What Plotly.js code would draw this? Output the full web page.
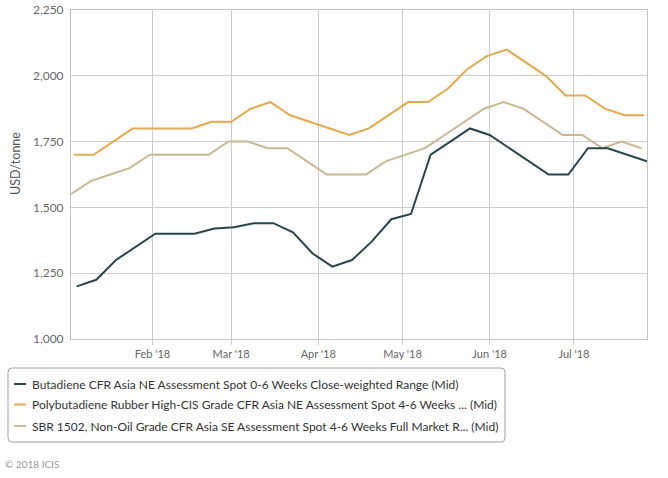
<!DOCTYPE html>
<html>
<head>
<meta charset="utf-8">
<script src="https://cdn.plot.ly/plotly-3.0.1.min.js"></script>
<style>
  html, body { margin: 0; padding: 0; background: #fff; }
  #chart { width: 668px; height: 478px; }
</style>
</head>
<body>
<div id="chart"></div>
<script>
// ---------- data ----------
const seriesNames = [
  "Butadiene CFR Asia NE Assessment Spot 0-6 Weeks Close-weighted Range (Mid)",
  "Polybutadiene Rubber High-CIS Grade CFR Asia NE Assessment Spot 4-6 Weeks ... (Mid)",
  "SBR 1502, Non-Oil Grade CFR Asia SE Assessment Spot 4-6 Weeks Full Market R... (Mid)"
];

const butadieneDates = [
  "2018-01-05","2018-01-12","2018-01-19","2018-01-26","2018-02-02","2018-02-09",
  "2018-02-16","2018-02-23","2018-03-02","2018-03-09","2018-03-16","2018-03-23",
  "2018-03-30","2018-04-06","2018-04-13","2018-04-20","2018-04-27","2018-05-04",
  "2018-05-11","2018-05-18","2018-05-25","2018-06-01","2018-06-08","2018-06-15",
  "2018-06-22","2018-06-29","2018-07-06","2018-07-13","2018-07-20","2018-07-27"
];
const butadieneValues = [
  1200, 1225, 1300, 1350, 1400, 1400,
  1400, 1420, 1425, 1440, 1440, 1405,
  1325, 1275, 1300, 1370, 1455, 1475,
  1700, 1750, 1800, 1775, 1725, 1675,
  1625, 1625, 1725, 1725, 1700, 1675
];

const pbrDates = [
  "2018-01-04","2018-01-11","2018-01-18","2018-01-25","2018-02-01","2018-02-08",
  "2018-02-15","2018-02-22","2018-03-01","2018-03-08","2018-03-15","2018-03-22",
  "2018-03-29","2018-04-05","2018-04-12","2018-04-19","2018-04-26","2018-05-03",
  "2018-05-10","2018-05-17","2018-05-24","2018-05-31","2018-06-07","2018-06-14",
  "2018-06-21","2018-06-28","2018-07-05","2018-07-12","2018-07-19","2018-07-26"
];
const pbrValues = [
  1700, 1700, 1750, 1800, 1800, 1800,
  1800, 1825, 1825, 1875, 1900, 1850,
  1825, 1800, 1775, 1800, 1850, 1900,
  1900, 1950, 2025, 2075, 2100, 2050,
  2000, 1925, 1925, 1875, 1850, 1850
];

const sbrDates = [
  "2018-01-03","2018-01-10","2018-01-17","2018-01-24","2018-01-31","2018-02-07",
  "2018-02-14","2018-02-21","2018-02-28","2018-03-07","2018-03-14","2018-03-21",
  "2018-03-28","2018-04-04","2018-04-11","2018-04-18","2018-04-25","2018-05-02",
  "2018-05-09","2018-05-16","2018-05-23","2018-05-30","2018-06-06","2018-06-13",
  "2018-06-20","2018-06-27","2018-07-04","2018-07-11","2018-07-18","2018-07-25"
];
const sbrValues = [
  1550, 1600, 1625, 1650, 1700, 1700,
  1700, 1700, 1750, 1750, 1725, 1725,
  1675, 1625, 1625, 1625, 1675, 1700,
  1725, 1775, 1825, 1875, 1900, 1875,
  1825, 1775, 1775, 1725, 1750, 1725
];

const xTickVals = ["2018-02-01","2018-03-01","2018-04-01","2018-05-01","2018-06-01","2018-07-01"];
const xTickText = ["Feb '18","Mar '18","Apr '18","May '18","Jun '18","Jul '18"];
const yTickVals = [1000, 1250, 1500, 1750, 2000, 2250];
const yAxisLabel = "USD/tonne";
const copyrightText = "\u00a9 2018 ICIS";

// ---------- styles ----------
const colors = ["#2b444a", "#e2aa4c", "#c8b895"];
const FONT = "Lato, 'Open Sans', sans-serif";

// plot area in pixels
const W = 668, H = 478;
const L = 71, R = 647, T = 10, B = 339;
const px = v => (v - L) / (R - L);
const py = v => (B - v) / (B - T);

const traces = [
  { x: butadieneDates, y: butadieneValues, name: seriesNames[0] },
  { x: pbrDates, y: pbrValues, name: seriesNames[1] },
  { x: sbrDates, y: sbrValues, name: seriesNames[2] }
].map((t, i) => Object.assign(t, {
  type: "scatter", mode: "lines",
  line: { color: colors[i], width: 2 },
  hoverinfo: "x+y"
}));
const drawOrder = [traces[2], traces[1], traces[0]];

// legend (custom box)
const lx0 = 8, lx1 = 505, ly0 = 368, ly1 = 442, rr = 4;
const boxPath =
  `M ${px(lx0 + rr)} ${py(ly0)} L ${px(lx1 - rr)} ${py(ly0)} ` +
  `Q ${px(lx1)} ${py(ly0)} ${px(lx1)} ${py(ly0 + rr)} ` +
  `L ${px(lx1)} ${py(ly1 - rr)} Q ${px(lx1)} ${py(ly1)} ${px(lx1 - rr)} ${py(ly1)} ` +
  `L ${px(lx0 + rr)} ${py(ly1)} Q ${px(lx0)} ${py(ly1)} ${px(lx0)} ${py(ly1 - rr)} ` +
  `L ${px(lx0)} ${py(ly0 + rr)} Q ${px(lx0)} ${py(ly0)} ${px(lx0 + rr)} ${py(ly0)} Z`;

const legendRows = [384, 404.5, 426];
const shapes = [{
  type: "path", xref: "paper", yref: "paper", path: boxPath,
  line: { color: "#a0a0a0", width: 1 }, fillcolor: "rgba(0,0,0,0)", layer: "above"
}];
const annotations = [];
seriesNames.forEach((n, i) => {
  shapes.push({
    type: "line", xref: "paper", yref: "paper",
    x0: px(14), x1: px(26), y0: py(legendRows[i]), y1: py(legendRows[i]),
    line: { color: colors[i], width: 2 }
  });
  annotations.push({
    xref: "paper", yref: "paper", x: px(29.5), y: py(legendRows[i]),
    xanchor: "left", yanchor: "middle", showarrow: false, text: n,
    font: { family: FONT, size: 12, color: "#333333" }
  });
});
annotations.push({
  xref: "paper", yref: "paper", x: px(15), y: py(164),
  xanchor: "center", yanchor: "middle", showarrow: false, textangle: -90,
  text: yAxisLabel, font: { family: FONT, size: 12.5, color: "#555555" }
});
annotations.push({
  xref: "paper", yref: "paper", x: px(3), y: py(464),
  xanchor: "left", yanchor: "middle", showarrow: false,
  text: copyrightText, font: { family: FONT, size: 10, color: "#9a9a9a" }
});

const layout = {
  width: W, height: H,
  margin: { l: L, r: W - R, t: T, b: H - B, pad: 0 },
  paper_bgcolor: "#ffffff", plot_bgcolor: "#ffffff",
  showlegend: false,
  font: { family: FONT, size: 11, color: "#666666" },
  xaxis: {
    type: "date",
    range: ["2018-01-03", "2018-07-27"],
    tickvals: xTickVals, ticktext: xTickText,
    showgrid: true, gridcolor: "#cccccc", gridwidth: 1,
    ticks: "outside", ticklen: 5, tickcolor: "#cccccc",
    showline: true, linecolor: "#c4c4c4", linewidth: 1, mirror: true,
    zeroline: false,
    tickfont: { family: FONT, size: 11, color: "#666666" }
  },
  yaxis: {
    range: [1000, 2250],
    tickvals: yTickVals, tickformat: ",",
    showgrid: true, gridcolor: "#cccccc", gridwidth: 1,
    ticks: "", ticklabelstandoff: 4,
    showline: true, linecolor: "#c4c4c4", linewidth: 1, mirror: true,
    zeroline: false,
    tickfont: { family: FONT, size: 12, color: "#666666" }
  },
  shapes: shapes,
  annotations: annotations
};

Plotly.newPlot("chart", drawOrder, layout, { displayModeBar: false, staticPlot: true });
</script>
</body>
</html>
